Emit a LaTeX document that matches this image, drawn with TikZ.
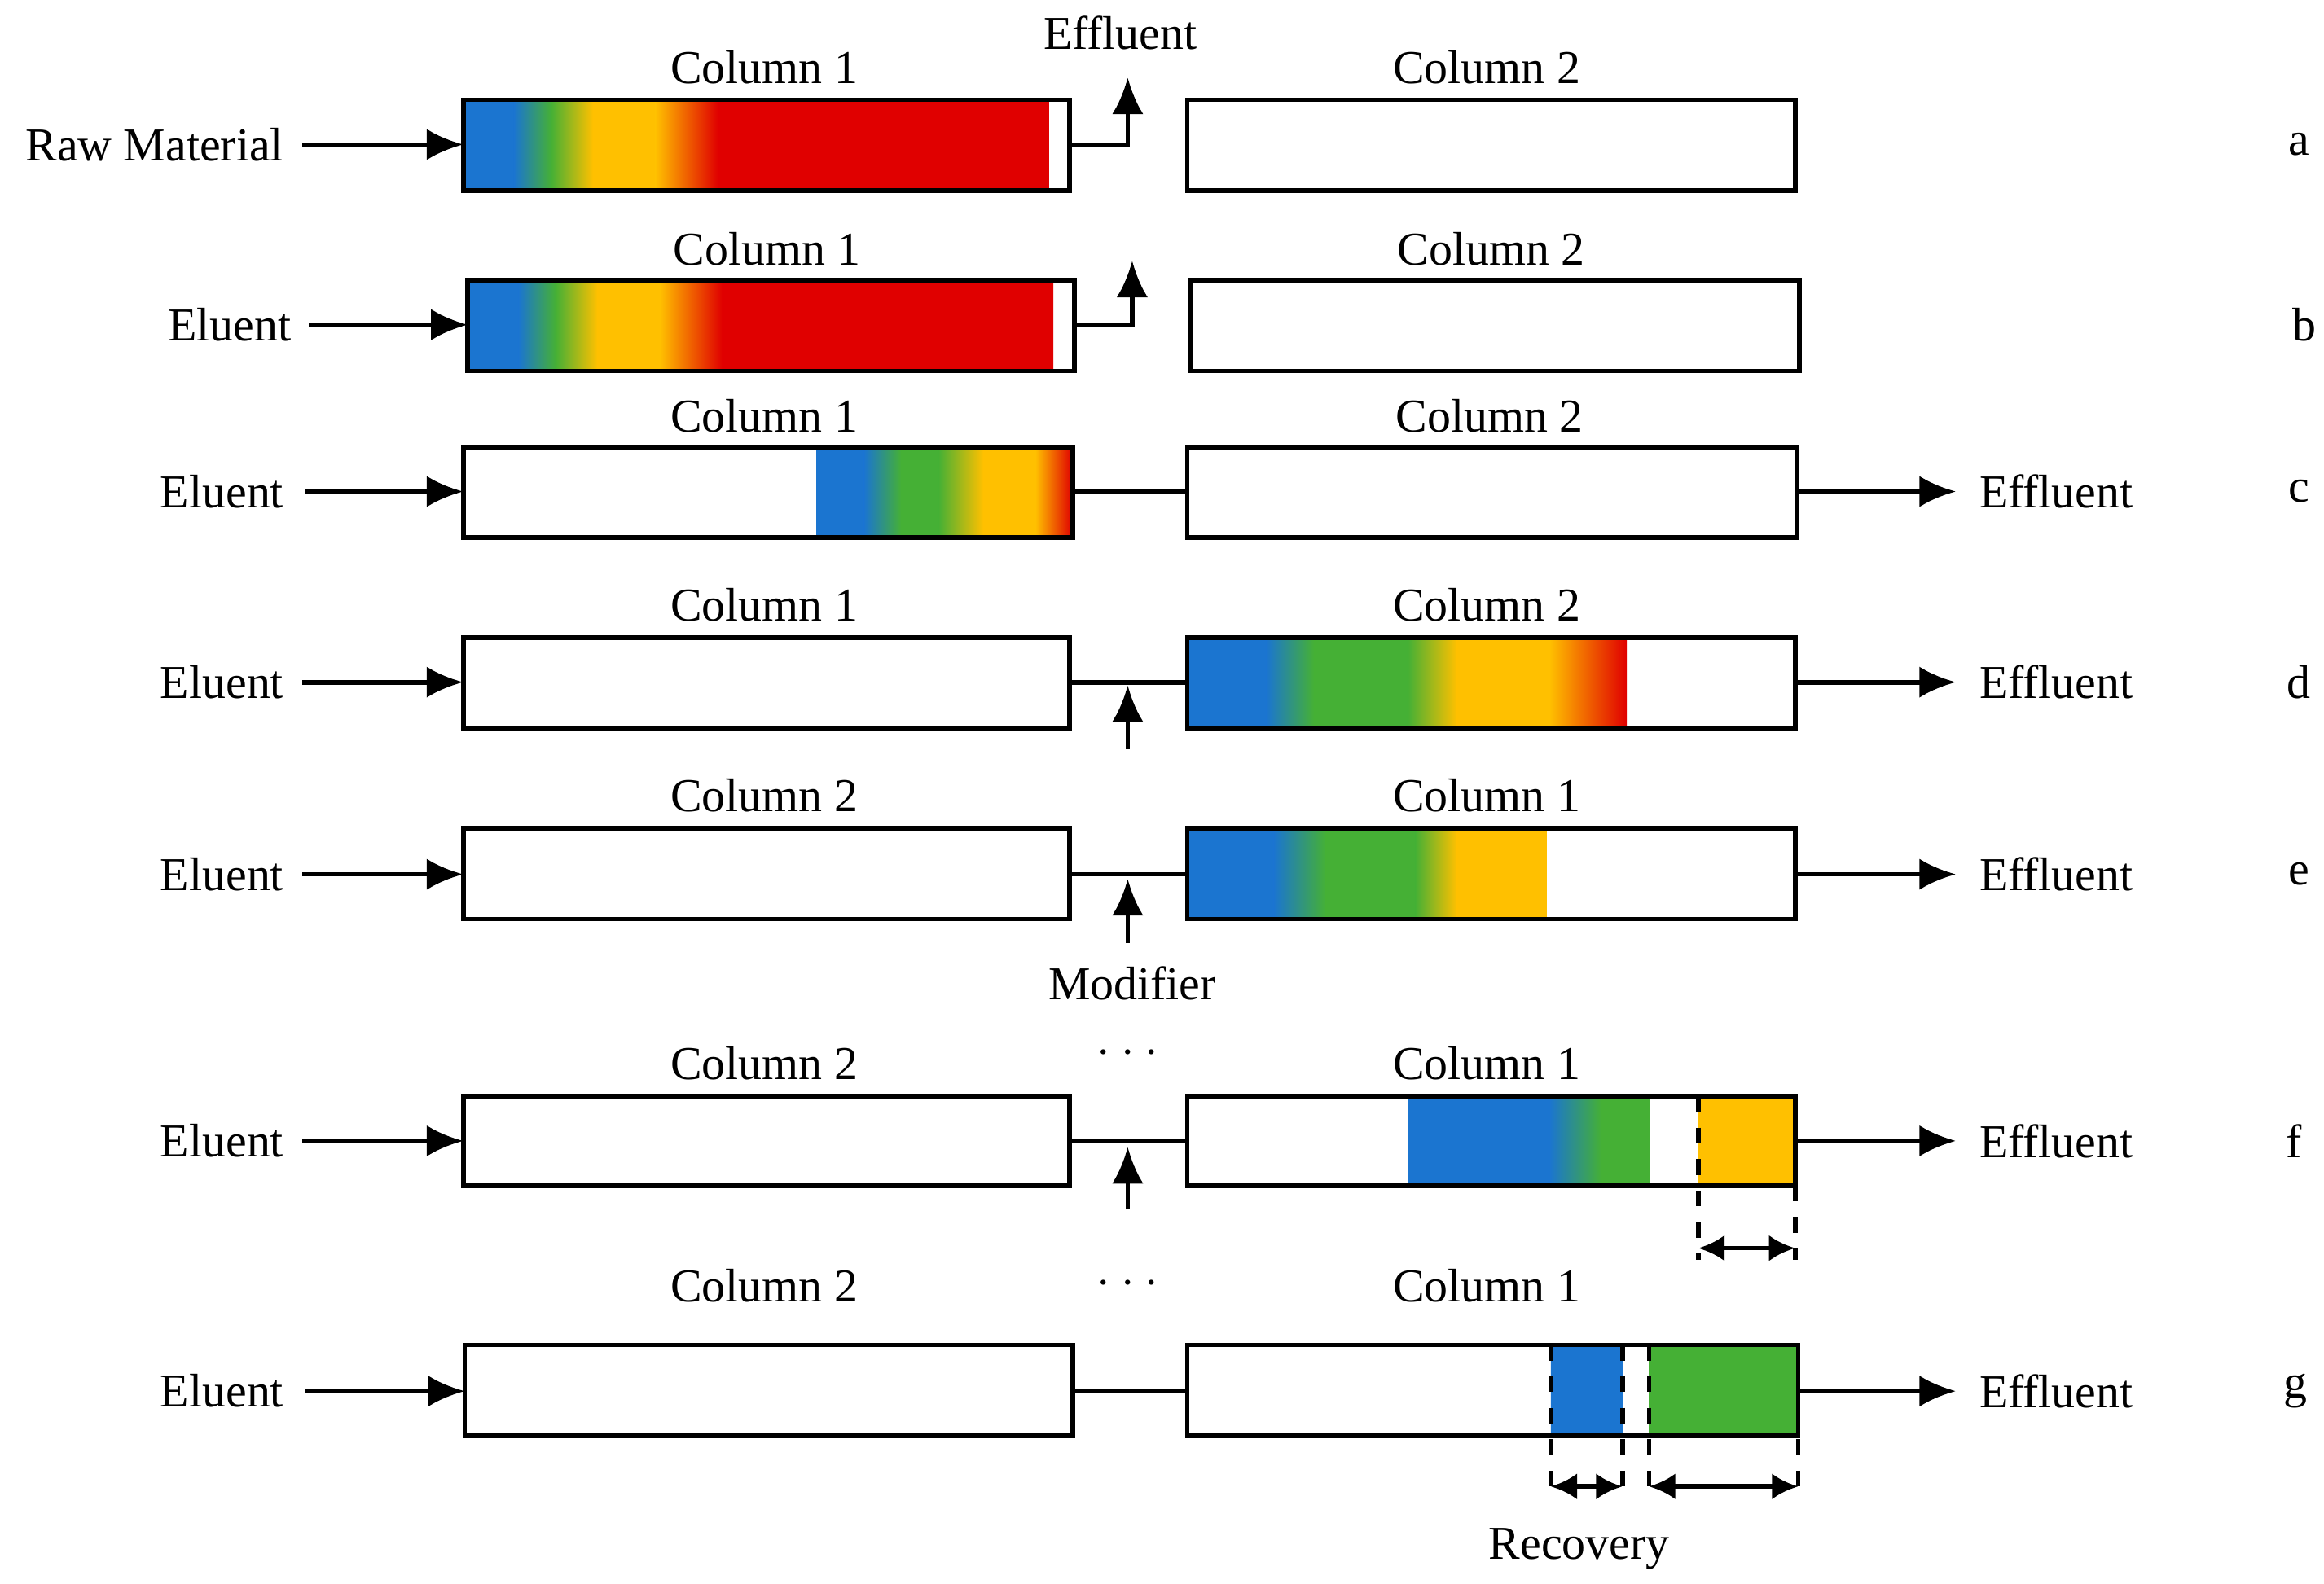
\documentclass[tikz,border=0pt]{standalone}
\usepackage{fontspec}
\setmainfont{Liberation Serif}
\usetikzlibrary{arrows.meta}
\definecolor{cb}{RGB}{27,117,208}
\definecolor{cg}{RGB}{69,176,53}
\definecolor{cy}{RGB}{255,192,0}
\definecolor{cr}{RGB}{224,0,0}
\newcommand{\gseg}[6]{\shade[left color=#5,right color=#6] (#1,#3) rectangle (#2,#4);}
\begin{document}
\begin{tikzpicture}[x=0.01cm,y=-0.01cm,
  lab/.style={font=\fontsize{9}{11}\selectfont,inner sep=0pt},
  box/.style={draw,line width=0.9pt},
  ar/.style={line width=0.9pt,-{Latex[length=7pt,width=6pt]}},
  dar/.style={line width=0.9pt,{Latex[length=5pt,width=5pt]}-{Latex[length=5pt,width=5pt]}},
  ln/.style={line width=0.9pt},
  dsh/.style={line width=0.9pt,dashed}]
\useasboundingbox (0,0) rectangle (1560,1063);
% ---------- row a
\gseg{311}{345}{67}{128}{cb}{cb}\gseg{345}{370}{67}{128}{cb}{cg}\gseg{370}{398}{67}{128}{cg}{cy}
\gseg{398}{440}{67}{128}{cy}{cy}\gseg{440}{482}{67}{128}{cy}{cr}\gseg{482}{704}{67}{128}{cr}{cr}
\draw[box] (311,67) rectangle (718,128); \draw[box] (797,67) rectangle (1205,128);
\node[lab] at (513,45) {Column 1}; \node[lab] at (998,45) {Column 2};
\node[lab,anchor=east] (rawa) at (191,97) {Raw Material};
\coordinate (ia) at (311,97); \draw[ar] (203,97) -- (ia);
\coordinate (oa) at (718,97); \coordinate (ea) at (757,52);
\draw[ar] (oa) -- (757,97) -- (ea);
\node[lab] (effa) at (752,22) {Effluent};
\node[lab] at (1543,97) {a};
% ---------- row b
\gseg{314}{348}{188}{249}{cb}{cb}\gseg{348}{373}{188}{249}{cb}{cg}\gseg{373}{401}{188}{249}{cg}{cy}
\gseg{401}{443}{188}{249}{cy}{cy}\gseg{443}{485}{188}{249}{cy}{cr}\gseg{485}{707}{188}{249}{cr}{cr}
\draw[box] (314,188) rectangle (721,249); \draw[box] (799,188) rectangle (1208,249);
\node[lab] at (515,167) {Column 1}; \node[lab] at (1001,167) {Column 2};
\node[lab,anchor=east] at (196,218) {Eluent};
\draw[ar] (207,218) -- (314,218);
\draw[ar] (721,218) -- (760,218) -- (760,175);
\node[lab] at (1547,218) {b};
% ---------- row c
\gseg{548}{580}{300}{361}{cb}{cb}\gseg{580}{605}{300}{361}{cb}{cg}\gseg{605}{630}{300}{361}{cg}{cg}
\gseg{630}{660}{300}{361}{cg}{cy}\gseg{660}{695}{300}{361}{cy}{cy}\gseg{695}{720}{300}{361}{cy}{cr}
\draw[box] (311,300) rectangle (720,361); \draw[box] (797,300) rectangle (1206,361);
\node[lab] at (513,279) {Column 1}; \node[lab] at (1000,279) {Column 2};
\node[lab,anchor=east] at (191,330) {Eluent};
\draw[ar] (205,330) -- (311,330);
\draw[ln] (720,330) -- (797,330);
\draw[ar] (1206,330) -- (1313,330);
\node[lab,anchor=west] at (1328,330) {Effluent};
\node[lab] at (1543,330) {c};
% ---------- row d
\gseg{797}{850}{428}{489}{cb}{cb}\gseg{850}{882}{428}{489}{cb}{cg}\gseg{882}{945}{428}{489}{cg}{cg}
\gseg{945}{978}{428}{489}{cg}{cy}\gseg{978}{1040}{428}{489}{cy}{cy}\gseg{1040}{1092}{428}{489}{cy}{cr}
\draw[box] (311,428) rectangle (718,489); \draw[box] (797,428) rectangle (1205,489);
\node[lab] at (513,406) {Column 1}; \node[lab] at (998,406) {Column 2};
\node[lab,anchor=east] at (191,458) {Eluent};
\draw[ar] (203,458) -- (311,458);
\draw[ln] (718,458) -- (797,458);
\draw[ar] (757,503) -- (757,460);
\draw[ar] (1205,458) -- (1313,458);
\node[lab,anchor=west] at (1328,458) {Effluent};
\node[lab] at (1543,458) {d};
% ---------- row e
\gseg{797}{855}{556}{617}{cb}{cb}\gseg{855}{890}{556}{617}{cb}{cg}\gseg{890}{950}{556}{617}{cg}{cg}
\gseg{950}{978}{556}{617}{cg}{cy}\gseg{978}{1038}{556}{617}{cy}{cy}
\draw[box] (311,556) rectangle (718,617); \draw[box] (797,556) rectangle (1205,617);
\node[lab] at (513,534) {Column 2}; \node[lab] at (998,534) {Column 1};
\node[lab,anchor=east] at (191,587) {Eluent};
\draw[ar] (203,587) -- (311,587);
\draw[ln] (718,587) -- (797,587);
\draw[ar] (757,633) -- (757,590);
\node[lab] at (760,660) {Modifier};
\draw[ar] (1205,587) -- (1313,587);
\node[lab,anchor=west] at (1328,587) {Effluent};
\node[lab] at (1543,587) {e};
\node[lab] at (757,707) {$\cdot\cdot\cdot$};
% ---------- row f
\gseg{945}{1040}{736}{796}{cb}{cb}\gseg{1040}{1075}{736}{796}{cb}{cg}\gseg{1075}{1107}{736}{796}{cg}{cg}
\gseg{1140}{1205}{736}{796}{cy}{cy}
\draw[box] (311,736) rectangle (718,796); \draw[box] (797,736) rectangle (1205,796);
\node[lab] at (513,714) {Column 2}; \node[lab] at (998,714) {Column 1};
\node[lab,anchor=east] at (191,766) {Eluent};
\draw[ar] (203,766) -- (311,766);
\draw[ln] (718,766) -- (797,766);
\draw[ar] (757,812) -- (757,770);
\draw[ar] (1205,766) -- (1313,766);
\node[lab,anchor=west] at (1328,766) {Effluent};
\node[lab] at (1540,766) {f};
\draw[dsh] (1140,736) -- (1140,846); \draw[dsh] (1205,796) -- (1205,846);
\draw[dar] (1140,838) -- (1205,838);
\node[lab] at (757,862) {$\cdot\cdot\cdot$};
% ---------- row g
\gseg{1041}{1089}{903}{964}{cb}{cb}\gseg{1107}{1207}{903}{964}{cg}{cg}
\draw[box] (312,903) rectangle (720,964); \draw[box] (797,903) rectangle (1207,964);
\node[lab] at (513,863) {Column 2}; \node[lab] at (998,863) {Column 1};
\node[lab,anchor=east] at (191,934) {Eluent};
\draw[ar] (205,934) -- (312,934);
\draw[ln] (720,934) -- (797,934);
\draw[ar] (1207,934) -- (1313,934);
\node[lab,anchor=west] at (1328,934) {Effluent};
\node[lab] at (1541,934) {g};
\foreach \xx in {1041,1089,1107,1207} \draw[dsh] (\xx,903) -- (\xx,1006);
\draw[dar] (1041,998) -- (1089,998);
\draw[dar] (1107,998) -- (1207,998);
\node[lab] at (1060,1040) {Recovery};
\end{tikzpicture}
\end{document}
